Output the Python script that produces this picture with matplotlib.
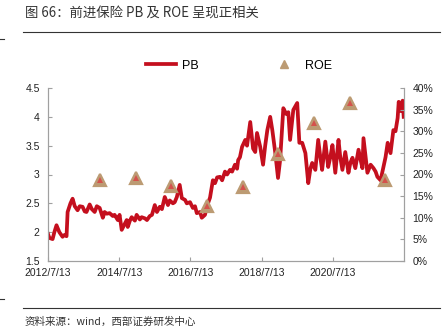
import matplotlib
matplotlib.use("Agg")
import matplotlib.pyplot as plt
import matplotlib.lines as mlines
import pandas as pd
import numpy as np

# ---------------- data ----------------
pb_years = [2012.53, 2012.57, 2012.66, 2012.71, 2012.77, 2012.85, 2012.94, 2012.99, 2013.05, 2013.08,
            2013.16, 2013.22, 2013.28, 2013.36, 2013.42, 2013.50, 2013.56, 2013.61, 2013.70, 2013.76,
            2013.84, 2013.90, 2013.98, 2014.07, 2014.12, 2014.18, 2014.26, 2014.35, 2014.40, 2014.49,
            2014.54, 2014.60, 2014.69, 2014.74, 2014.77, 2014.83, 2014.88, 2014.97, 2015.02, 2015.11,
            2015.16, 2015.25, 2015.31, 2015.39, 2015.45, 2015.53, 2015.59, 2015.67, 2015.73, 2015.81,
            2015.90, 2015.95, 2016.04, 2016.09, 2016.15, 2016.23, 2016.29, 2016.38, 2016.43, 2016.52,
            2016.60, 2016.66, 2016.71, 2016.80, 2016.85, 2016.94, 2016.99, 2017.08, 2017.16, 2017.22,
            2017.28, 2017.36, 2017.42, 2017.50, 2017.56, 2017.64, 2017.70, 2017.78, 2017.84, 2017.87,
            2017.92, 2017.98, 2018.07, 2018.12, 2018.21, 2018.29, 2018.35, 2018.40, 2018.49, 2018.57,
            2018.63, 2018.69, 2018.77, 2018.83, 2018.91, 2018.99, 2019.05, 2019.14, 2019.22, 2019.28,
            2019.33, 2019.42, 2019.53, 2019.59, 2019.67, 2019.76, 2019.84, 2019.90, 2019.95, 2020.04,
            2020.12, 2020.18, 2020.23, 2020.32, 2020.40, 2020.46, 2020.52, 2020.60, 2020.69, 2020.74,
            2020.80, 2020.88, 2020.97, 2021.02, 2021.08, 2021.16, 2021.25, 2021.31, 2021.36, 2021.39,
            2021.45, 2021.50, 2021.59, 2021.67, 2021.73, 2021.78, 2021.87, 2021.95, 2022.01, 2022.07,
            2022.15, 2022.23, 2022.29, 2022.35, 2022.38, 2022.43, 2022.49, 2022.52]
pb_values = [1.97, 1.90, 1.88, 2.00, 2.12, 2.00, 1.92, 1.95, 1.93, 2.35,
             2.50, 2.58, 2.45, 2.38, 2.45, 2.44, 2.36, 2.35, 2.48, 2.40,
             2.35, 2.45, 2.42, 2.25, 2.35, 2.32, 2.33, 2.28, 2.30, 2.21,
             2.30, 2.04, 2.15, 2.21, 2.09, 2.20, 2.26, 2.20, 2.30, 2.22,
             2.26, 2.24, 2.21, 2.28, 2.30, 2.47, 2.35, 2.44, 2.40, 2.61,
             2.47, 2.55, 2.50, 2.52, 2.61, 2.82, 2.59, 2.56, 2.50, 2.52,
             2.42, 2.45, 2.33, 2.35, 2.25, 2.30, 2.44, 2.60, 2.90, 2.85,
             2.95, 2.96, 2.90, 3.05, 3.00, 3.08, 3.05, 3.17, 3.10, 3.25,
             3.30, 3.48, 3.60, 3.50, 3.91, 3.45, 3.39, 3.72, 3.48, 3.17,
             3.50, 3.77, 4.00, 3.77, 3.39, 2.94, 3.25, 4.15, 4.05, 4.08,
             3.60, 4.12, 4.24, 3.55, 3.55, 3.37, 2.85, 3.10, 3.20, 3.08,
             3.60, 3.30, 3.08, 3.57, 3.13, 3.30, 3.51, 3.03, 3.60, 3.30,
             3.08, 3.39, 3.03, 3.20, 3.29, 3.11, 3.43, 3.25, 3.11, 3.63,
             3.30, 3.03, 3.17, 3.11, 3.05, 2.96, 2.90, 3.13, 3.30, 3.55,
             3.37, 3.77, 3.75, 3.98, 4.26, 4.10, 4.28, 4.00]

roe_dates = ["2013-12-31", "2014-12-31", "2015-12-31", "2016-12-31", "2017-12-31",
             "2018-12-31", "2019-12-31", "2020-12-31", "2021-12-31"]
roe_values = [18.7, 19.2, 17.3, 12.7, 17.2, 24.7, 31.8, 36.6, 18.7]  # percent

x_tick_dates = ["2012-07-13", "2014-07-13", "2016-07-13", "2018-07-13", "2020-07-13"]
x_tick_labels = ["2012/7/13", "2014/7/13", "2016/7/13", "2018/7/13", "2020/7/13"]
left_ticks = [1.5, 2, 2.5, 3, 3.5, 4, 4.5]
right_ticks = [0, 5, 10, 15, 20, 25, 30, 35, 40]

title = "图 66：前进保险 PB 及 ROE 呈现正相关"
source = "资料来源：wind，西部证券研发中心"


def year_to_date(y):
    yr = int(np.floor(y))
    return pd.Timestamp(year=yr, month=1, day=1) + pd.Timedelta(days=(y - yr) * 365.25)


pb_dates = [year_to_date(y) for y in pb_years]
roe_dt = pd.to_datetime(roe_dates)

# ---------------- style ----------------
RED = "#C40F1E"
TAN = "#BC9B73"
INNER = "#D4524C"
GREY = "#A0A0A0"
cjk = ["Noto Sans CJK SC", "DejaVu Sans"]
plt.rcParams["font.family"] = ["Liberation Sans", "DejaVu Sans"]

fig = plt.figure(figsize=(4.47, 3.28), dpi=100)
ax = fig.add_axes([48 / 447, 1 - 261 / 328, (404 - 48) / 447, (261 - 88) / 328])
ax2 = ax.twinx()

ax.plot(pb_dates, pb_values, color=RED, lw=2.7, solid_joinstyle="round", zorder=3)
ax.set_ylim(1.5, 4.5)
ax.set_yticks(left_ticks)
ax.set_yticklabels([f"{v:g}" for v in left_ticks])
ax.set_xlim(pd.Timestamp("2012-07-13"), pd.Timestamp("2022-07-13"))
ax.set_xticks(pd.to_datetime(x_tick_dates))
ax.set_xticklabels(x_tick_labels)

ax2.plot(roe_dt, roe_values, linestyle="none", marker="^", ms=9, mfc=TAN, mec=TAN,
         mew=1.6, zorder=4)
ax2.plot(roe_dt, roe_values, linestyle="none", marker="^", ms=4, mfc=INNER, mec=INNER,
         mew=0, zorder=5)
ax2.set_ylim(0, 40)
ax2.set_yticks(right_ticks)
ax2.set_yticklabels([f"{v}%" for v in right_ticks])

for a in (ax, ax2):
    a.spines["top"].set_visible(False)
    for s in ("left", "right", "bottom"):
        a.spines[s].set_color(GREY)
        a.spines[s].set_linewidth(0.8)
    a.tick_params(direction="in", length=3, width=0.8, color=GREY, labelsize=7.5,
                  labelcolor="#222222", pad=6)
ax.tick_params(axis="x", pad=5)
ax.patch.set_visible(False)

# legend
h_pb = mlines.Line2D([], [], color=RED, lw=2.7)
h_roe = mlines.Line2D([], [], color=TAN, marker="^", linestyle="none", ms=6)
fig.legend([h_pb, h_roe], ["PB", "ROE"], loc="center", bbox_to_anchor=(0.535, 0.80),
           ncol=2, frameon=False, fontsize=9, handlelength=2.4, columnspacing=5.6,
           handletextpad=0.5)

# title, rules, source
fig.text(25 / 447, 1 - 14 / 328, title, family=cjk, fontsize=9.6, color="#333333",
         va="center", ha="left")
fig.add_artist(mlines.Line2D([23 / 447, 440 / 447], [1 - 31.7 / 328] * 2, color="#333333", lw=0.8))
fig.add_artist(mlines.Line2D([0, 4 / 447], [1 - 39 / 328] * 2, color="#333333", lw=0.8))
fig.add_artist(mlines.Line2D([23 / 447, 440 / 447], [1 - 307.7 / 328] * 2, color="#333333", lw=0.8))
fig.add_artist(mlines.Line2D([0, 4 / 447], [1 - 299 / 328] * 2, color="#333333", lw=0.8))
fig.text(25 / 447, 1 - 321.5 / 328, source, family=cjk, fontsize=7.6, color="#333333",
         va="center", ha="left")

fig.savefig("out.png", dpi=100)
